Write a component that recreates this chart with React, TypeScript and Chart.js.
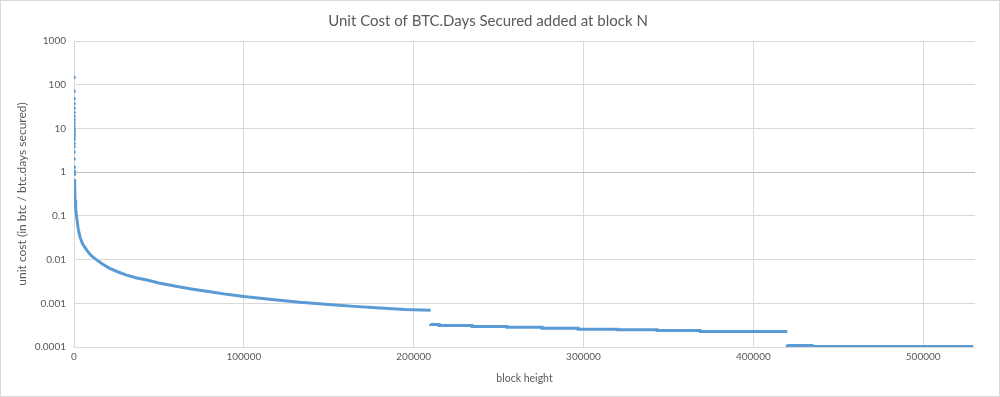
import React, { useEffect, useRef } from "react";
import { Chart, registerables } from "chart.js";

Chart.register(...registerables);

const chartTitle = "Unit Cost of BTC.Days Secured added at block N";
const xTitle = "block height";
const yTitle = "unit cost (in btc / btc.days secured)";

const yTickValues = [1000, 100, 10, 1, 0.1, 0.01, 0.001, 0.0001];
const yTickLabels = ["1000", "100", "10", "1", "0.1", "0.01", "0.001", "0.0001"];
const xTickValues = [0, 100000, 200000, 300000, 400000, 500000];
const xTickLabels = ["0", "100000", "200000", "300000", "400000", "500000"];

// earliest blocks: scattered markers near x = 0
const earlyBlocks = [1, 2, 3, 4, 5, 6, 7, 8, 9, 10, 11, 12, 14, 16, 18, 20, 25, 30, 40, 60, 100, 150, 200];
const earlyValues = [147, 71, 48, 37, 29, 23, 19, 16, 13.5, 11.5, 10, 9, 8, 7, 6.2, 5.5, 4.5, 3.8, 2.9, 2, 1.3, 1.05, 0.9];

// first reward era (50 BTC)
const era1Blocks = [300, 600, 1000, 1600, 2500, 3500, 5000, 7500, 10000, 13500, 17000, 21000, 26000, 31000, 37000, 43000, 50000, 60000, 70000, 80000, 90000, 100000, 115000, 133000, 150000, 165000, 180000, 195000, 210000];
const era1Values = [0.7, 0.23, 0.14, 0.09, 0.05, 0.033, 0.023, 0.0164, 0.0125, 0.0097, 0.0078, 0.0063, 0.0052, 0.0044, 0.0038, 0.0034, 0.0029, 0.00245, 0.0021, 0.00183, 0.0016, 0.00143, 0.00124, 0.00105, 0.00094, 0.00085, 0.00078, 0.00072, 0.00069];

// second reward era (25 BTC), step starts
const era2Blocks = [210000, 215000, 234400, 255000, 275600, 296800, 319800, 343300, 368700, 394000, 420000];
const era2Values = [0.000338, 0.000327, 0.00031, 0.000294, 0.000284, 0.000269, 0.000255, 0.000248, 0.000238, 0.000226, 0.000226];

// third reward era (12.5 BTC), step starts
const era3Blocks = [420000, 434600, 491200, 529400];
const era3Values = [0.000114, 0.000108, 0.000103, 0.000103];

const BLUE = "#5b9bd5";
const TEXT = "#595959";
const GRID = "#d9d9d9";
const FONT = "Lato, 'Open Sans', sans-serif";

const pts = (xs: number[], ys: number[]) => xs.map((x, i) => ({ x, y: ys[i] }));

export default function App() {
  const ref = useRef<HTMLCanvasElement | null>(null);

  useEffect(() => {
    document.body.style.margin = "0";
    const ctx = ref.current!.getContext("2d")!;
    const lineDs = (data: { x: number; y: number }[], stepped: any) => ({
      type: "line" as const,
      data,
      borderColor: BLUE,
      backgroundColor: BLUE,
      borderWidth: 3,
      pointRadius: 0,
      stepped,
      tension: 0,
      fill: false,
    });
    const chart = new Chart(ctx, {
      type: "scatter",
      data: {
        datasets: [
          {
            type: "scatter",
            data: pts(earlyBlocks, earlyValues),
            borderColor: BLUE,
            backgroundColor: BLUE,
            pointRadius: 1.8,
            pointBorderWidth: 0,
          } as any,
          lineDs(pts(era1Blocks, era1Values), false),
          lineDs(pts(era2Blocks, era2Values), "after"),
          lineDs(pts(era3Blocks, era3Values), "after"),
        ],
      },
      options: {
        animation: false,
        responsive: false,
        maintainAspectRatio: false,
        layout: { padding: { left: 0, right: 24, top: 0, bottom: 0 } },
        plugins: {
          legend: { display: false },
          tooltip: { enabled: false },
          title: {
            display: true,
            text: chartTitle,
            color: TEXT,
            font: { family: FONT, size: 15, weight: "normal" },
            padding: { top: 11, bottom: 11 },
          },
        },
        scales: {
          x: {
            type: "linear",
            min: 0,
            max: 530500,
            afterBuildTicks: (s: any) => {
              s.ticks = xTickValues.map((v) => ({ value: v }));
            },
            afterFit: (s: any) => {
              s.height = 49;
            },
            ticks: {
              color: TEXT,
              font: { family: FONT, size: 10 },
              padding: 4,
              maxRotation: 0,
              callback: (v: any) => {
                const i = xTickValues.indexOf(Number(v));
                return i >= 0 ? xTickLabels[i] : "";
              },
            },
            grid: { color: GRID, lineWidth: 1, drawTicks: false },
            border: { display: false },
            title: {
              display: true,
              text: xTitle,
              color: TEXT,
              font: { family: FONT, size: 10.5 },
              padding: { top: 0, bottom: 11 },
            },
          },
          y: {
            type: "logarithmic",
            min: 0.0001,
            max: 1000,
            afterBuildTicks: (s: any) => {
              s.ticks = yTickValues.map((v) => ({ value: v }));
            },
            afterFit: (s: any) => {
              s.width = 73;
            },
            ticks: {
              color: TEXT,
              font: { family: FONT, size: 10 },
              padding: 8,
              autoSkip: false,
              callback: (v: any) => {
                const i = yTickValues.findIndex((t) => Math.abs(t - Number(v)) / t < 1e-6);
                return i >= 0 ? yTickLabels[i] : "";
              },
            },
            grid: {
              color: (c: any) => (c.tick && Math.abs(c.tick.value - 1) < 1e-9 ? "#bfbfbf" : GRID),
              lineWidth: 1,
              drawTicks: false,
            },
            border: { display: false },
            title: {
              display: true,
              text: yTitle,
              color: TEXT,
              font: { family: FONT, size: 12 },
              padding: { top: 14, bottom: 0 },
            },
          },
        },
      } as any,
    });
    return () => chart.destroy();
  }, []);

  return (
    <div
      style={{
        position: "fixed",
        left: 0,
        top: 0,
        width: 1000,
        height: 397,
        boxSizing: "border-box",
        border: "1px solid #d9d9d9",
        background: "#fff",
      }}
    >
      <canvas ref={ref} width={998} height={395} style={{ display: "block", width: 998, height: 395 }} />
    </div>
  );
}
